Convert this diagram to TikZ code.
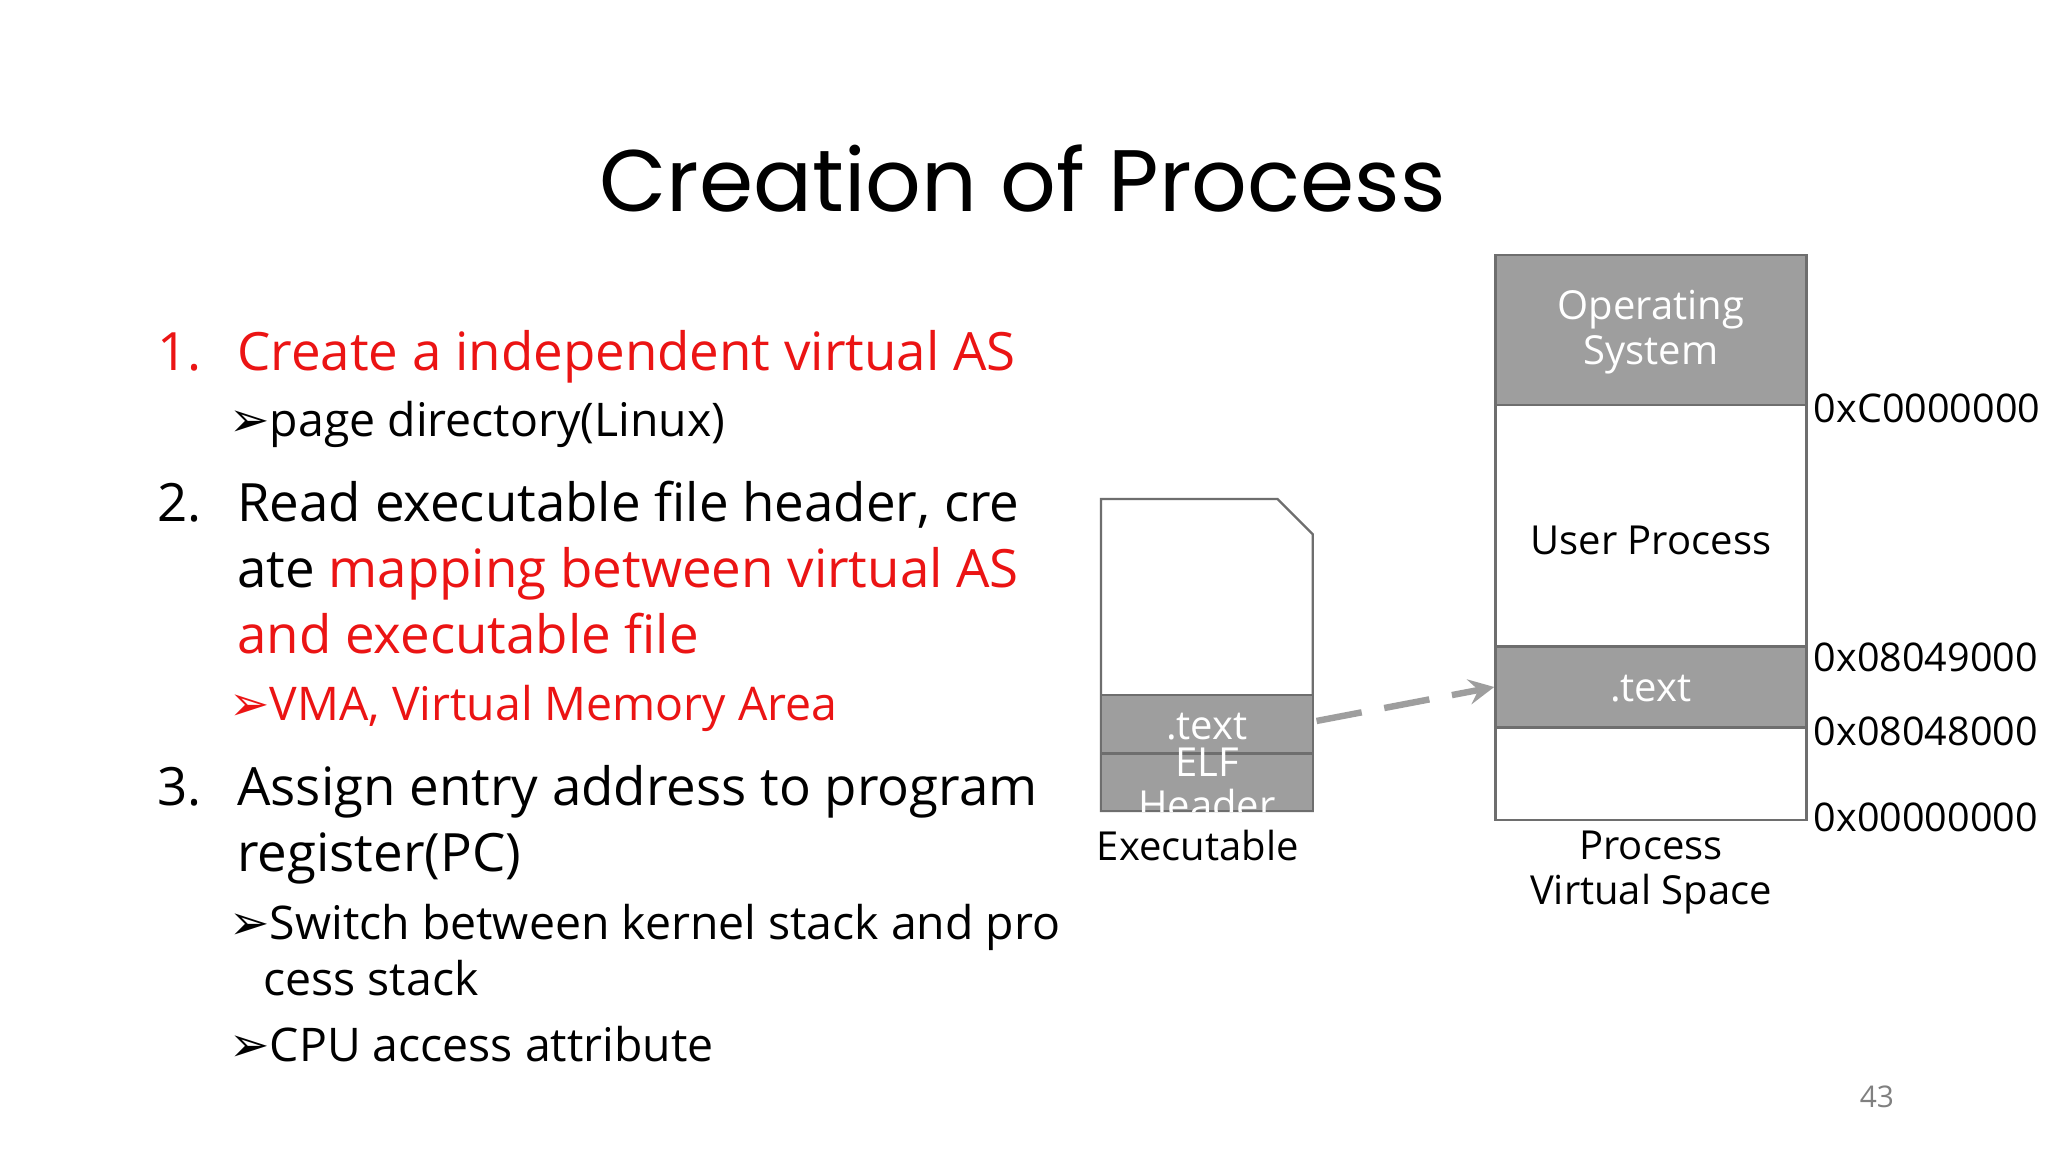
\documentclass[tikz,border=0pt]{standalone}
\usepackage{fontspec}
\setmainfont{Open Sans}
\newfontfamily\dv{DejaVu Sans}
\newfontfamily\ttl{Poppins}
\definecolor{myred}{RGB}{235,20,20}
\definecolor{boxgray}{RGB}{158,158,158}
\definecolor{edge}{RGB}{110,110,110}
\newcommand{\arr}{{\dv\fontsize{10.5}{12}\selectfont ➢}}
\begin{document}
\begin{tikzpicture}[x=0.01cm,y=-0.01cm,
  t/.style={inner sep=0,anchor=base west,font=\fontsize{11.5}{14}\selectfont},
  s/.style={inner sep=0,anchor=base west,font=\fontsize{10.1}{12}\selectfont},
  lab/.style={inner sep=0,font=\fontsize{8.7}{10}\selectfont},
  addr/.style={inner sep=0,anchor=west,font=\fontsize{8.6}{10}\selectfont},
  gbox/.style={fill=boxgray,draw=edge,line width=0.5pt},
  wbox/.style={fill=white,draw=edge,line width=0.5pt}]
\useasboundingbox (0,0) rectangle (1568,882);
\fill[white] (0,0) rectangle (1568,882);
\node[inner sep=0,font=\ttl\fontsize{19}{22}\selectfont] (title) at (783,137) {Creation of Process};
% list
\node[t,text=myred] (n1) at (120,284) {1.};
\node[t,text=myred] (l1) at (181,284) {Create a independent virtual AS};
\node[s] (b1) at (175,334) {\arr page directory(Linux)};
\node[t] (n2) at (120,399) {2.};
\node[t] (l2a) at (181,399) {Read executable file header, cre};
\node[t] (l2b) at (181,450) {ate \textcolor{myred}{mapping between virtual AS}};
\node[t,text=myred] (l2c) at (181,500) {and executable file};
\node[s,text=myred] (b2) at (175,552) {\arr VMA, Virtual Memory Area};
\node[t] (n3) at (120,617) {3.};
\node[t] (l3a) at (181,617) {Assign entry address to program};
\node[t] (l3b) at (181,667) {register(PC)};
\node[s] (b3a) at (175,719) {\arr Switch between kernel stack and pro};
\node[s] (b3b) at (201,762) {cess stack};
\node[s] (b4) at (175,813) {\arr CPU access attribute};
% executable
\draw[wbox] (843,621) -- (843,382) -- (978,382) -- (1005,409) -- (1005,621) -- cycle;
\draw[gbox] (843,532) rectangle (1005,577);
\draw[gbox] (843,577) rectangle (1005,621);
\node[lab,text=white] (etext) at (924,556) {.text};
\begin{scope}
\clip (843,572) rectangle (1005,621);
\node[lab,text=white,align=center,font=\fontsize{8.7}{9.4}\selectfont] (elf) at (924,600) {ELF\\Header};
\end{scope}
\node[lab] (exe) at (917,647) {Executable};
% process space
\draw[gbox] (1145,195) rectangle (1383,310);
\draw[wbox] (1145,310) rectangle (1383,495);
\draw[gbox] (1145,495) rectangle (1383,557);
\draw[wbox] (1145,557) rectangle (1383,628);
\node[lab,text=white,align=center,font=\fontsize{8.7}{9.8}\selectfont] (os) at (1264,254) {Operating\\System};
\node[lab] (up) at (1264,414) {User Process};
\node[lab,text=white] (ptext) at (1264,527) {.text};
\node[lab,align=center,font=\fontsize{8.7}{9.8}\selectfont] (pvs) at (1264,668) {Process\\Virtual Space};
\node[addr] (a1) at (1388,313) {0xC0000000};
\node[addr] (a2) at (1388,503) {0x08049000};
\node[addr] (a3) at (1388,560) {0x08048000};
\node[addr] (a4) at (1388,626) {0x00000000};
\coordinate (from) at (1008,552);
\coordinate (to) at (1144,526);
\draw[boxgray,line width=1.4pt,dash pattern=on 10pt off 5pt,-stealth] (from) -- (to);
\node[inner sep=0,text=gray,font=\fontsize{6.5}{8}\selectfont] (pg) at (1437,840) {43};
\end{tikzpicture}
\end{document}
